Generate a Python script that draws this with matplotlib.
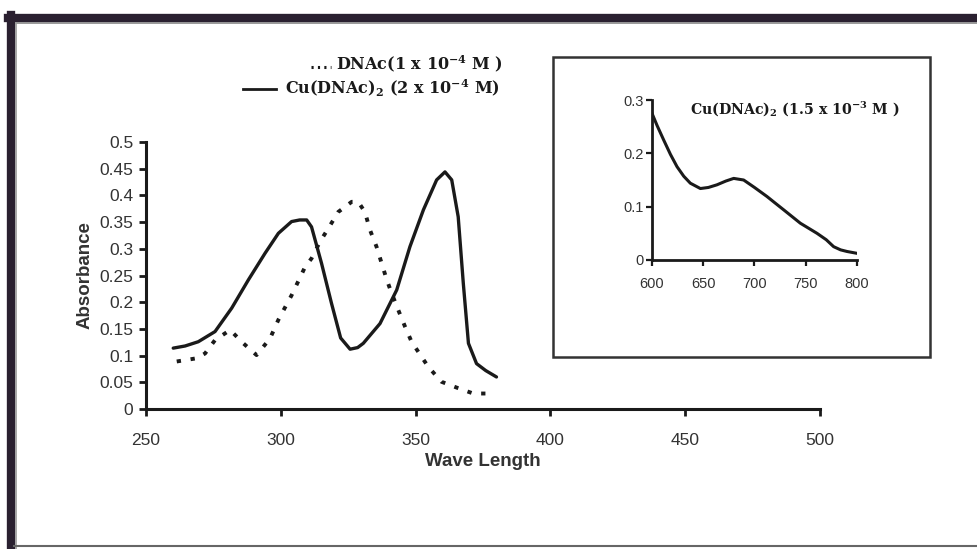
import matplotlib
matplotlib.use("Agg")
import matplotlib.pyplot as plt
from matplotlib.lines import Line2D

# ---- data ----
cu_wl = [260.1, 264.5, 269.4, 275.6, 281.8, 288, 294.2, 299.1, 304, 307, 309.6, 311.4,
         315.1, 318.8, 322.2, 325.7, 328.5, 330.6, 336.8, 343, 347.9, 352.9, 357.8,
         360.9, 363.4, 365.8, 367.7, 369.6, 372.6, 376, 380]
cu_abs = [0.114, 0.118, 0.126, 0.145, 0.189, 0.242, 0.292, 0.329, 0.351, 0.354, 0.354, 0.341,
          0.273, 0.198, 0.133, 0.112, 0.115, 0.123, 0.160, 0.223, 0.304, 0.373, 0.429,
          0.444, 0.429, 0.360, 0.235, 0.123, 0.085, 0.072, 0.060]

dna_wl = [261.4, 268.8, 271.9, 275.6, 281.2, 286.1, 291, 296, 299.1, 304, 309, 311.4,
          314.5, 317.6, 321.3, 326.3, 328.7, 331.2, 333.1, 335.5, 337.4, 339.3, 341.1,
          343.6, 346.1, 348.5, 351, 354.7, 359.6, 365.8, 371.4, 378.2]
dna_abs = [0.089, 0.095, 0.104, 0.129, 0.148, 0.123, 0.101, 0.132, 0.167, 0.213, 0.266, 0.282,
           0.313, 0.338, 0.369, 0.388, 0.388, 0.369, 0.335, 0.304, 0.273, 0.242, 0.217,
           0.185, 0.154, 0.126, 0.107, 0.079, 0.051, 0.039, 0.029, 0.029]

inset_wl = [600, 605, 611.4, 618, 624.4, 631, 637.4, 647.2, 655, 663.4, 672, 679.7, 689.4,
            700, 712.2, 720, 728.5, 744.7, 761, 770, 777.2, 784, 790.2, 800]
inset_abs = [0.275, 0.252, 0.225, 0.198, 0.175, 0.157, 0.144, 0.134, 0.136, 0.141, 0.148,
             0.153, 0.150, 0.136, 0.119, 0.107, 0.094, 0.069, 0.050, 0.038, 0.025, 0.019,
             0.016, 0.0125]

main_xticks = [250, 300, 350, 400, 450, 500]
main_yticks = [0, 0.05, 0.1, 0.15, 0.2, 0.25, 0.3, 0.35, 0.4, 0.45, 0.5]
main_yticklabels = ["0", "0.05", "0.1", "0.15", "0.2", "0.25", "0.3", "0.35", "0.4", "0.45", "0.5"]
inset_xticks = [600, 650, 700, 750, 800]
inset_yticks = [0, 0.1, 0.2, 0.3]
inset_yticklabels = ["0", "0.1", "0.2", "0.3"]

legend_dna = r"DNAc(1 x 10$^{-4}$ M )"
legend_cu = r"Cu(DNAc)$_2$ (2 x 10$^{-4}$ M)"
inset_title = r"Cu(DNAc)$_2$ (1.5 x 10$^{-3}$ M )"

plt.rcParams['font.family'] = ['Liberation Sans', 'DejaVu Sans']
plt.rcParams['mathtext.fontset'] = 'custom'
plt.rcParams['mathtext.rm'] = 'DejaVu Serif:bold'
plt.rcParams['mathtext.it'] = 'DejaVu Serif:bold'
plt.rcParams['mathtext.bf'] = 'DejaVu Serif:bold'

W, H = 978, 549
fig = plt.figure(figsize=(W / 100, H / 100), dpi=100)
fig.patch.set_facecolor('white')

def fx(px):
    return px / W

def fy(py):
    return 1 - py / H

ink = '#1a1a1a'
grey_txt = '#333333'

# ---- main axes ----
ax = fig.add_axes([fx(146), fy(409), fx(820) - fx(146), fy(142) - fy(409)])
ax.plot(cu_wl, cu_abs, color=ink, lw=2.4, solid_capstyle='round', solid_joinstyle='round')
ax.plot(dna_wl, dna_abs, color=ink, lw=2.8, linestyle=(0, (1.1, 2.5)))
ax.set_xlim(250, 500)
ax.set_ylim(0, 0.5)
ax.set_xticks(main_xticks)
ax.set_yticks(main_yticks)
ax.set_yticklabels(main_yticklabels)
for s in ['top', 'right']:
    ax.spines[s].set_visible(False)
for s in ['left', 'bottom']:
    ax.spines[s].set_linewidth(2.2)
    ax.spines[s].set_color(ink)
ax.tick_params(axis='both', direction='out', length=5, width=2, color=ink,
               labelsize=12.5, labelcolor=grey_txt)
ax.tick_params(axis='x', pad=12)
ax.tick_params(axis='y', pad=4)
ax.set_xlabel("Wave Length", fontsize=13.5, fontweight='bold', color=grey_txt, labelpad=4)
ax.set_ylabel("Absorbance", fontsize=13.5, fontweight='bold', color=grey_txt, labelpad=4)
ax.patch.set_alpha(0)

# ---- legend text ----
fig.text(fx(336), fy(64), legend_dna, fontsize=11.5, fontweight='bold',
         family='DejaVu Serif', color=ink, va='center', ha='left')
fig.add_artist(Line2D([fx(311), fx(331)], [fy(67), fy(67)], color=ink, lw=2.2,
                      linestyle=(0, (0.7, 1.4))))
fig.text(fx(285), fy(88), legend_cu, fontsize=11.5, fontweight='bold',
         family='DejaVu Serif', color=ink, va='center', ha='left')
fig.add_artist(Line2D([fx(243), fx(276)], [fy(89), fy(89)], color=ink, lw=2))

# ---- inset frame ----
fig.add_artist(plt.Rectangle((fx(553), fy(357)), fx(930) - fx(553), fy(57) - fy(357),
                             fill=False, edgecolor='#333333', lw=1.8))

# ---- inset axes ----
ia = fig.add_axes([fx(652), fy(260), fx(857) - fx(652), fy(100) - fy(260)])
ia.plot(inset_wl, inset_abs, color=ink, lw=2.2, solid_joinstyle='round')
ia.set_xlim(600, 800)
ia.set_ylim(0, 0.3)
ia.set_xticks(inset_xticks)
ia.set_yticks(inset_yticks)
ia.set_yticklabels(inset_yticklabels)
for s in ['top', 'right']:
    ia.spines[s].set_visible(False)
for s in ['left', 'bottom']:
    ia.spines[s].set_linewidth(2)
    ia.spines[s].set_color(ink)
ia.tick_params(axis='both', direction='out', length=4, width=1.6, color=ink,
               labelsize=10.5, labelcolor=grey_txt)
ia.tick_params(axis='x', pad=8)
ia.tick_params(axis='y', pad=2)
ia.patch.set_alpha(0)
ia.text(0.185, 0.94, inset_title, transform=ia.transAxes, fontsize=10.2,
        fontweight='bold', family='DejaVu Serif', color=ink, va='center', ha='left')

# ---- scan border ----
fig.add_artist(Line2D([fx(11), fx(11)], [fy(15), fy(549)], color='#2a2030', lw=6))
fig.add_artist(Line2D([fx(8), fx(978)], [fy(18), fy(18)], color='#2a2030', lw=6))
fig.add_artist(Line2D([fx(16), fx(978)], [fy(23), fy(23)], color='#888888', lw=1.2))
fig.add_artist(Line2D([fx(16), fx(16)], [fy(23), fy(549)], color='#999999', lw=1.2))
fig.add_artist(Line2D([fx(14), fx(978)], [fy(546), fy(546)], color='#666666', lw=1.5))

fig.savefig("out.png", dpi=100, facecolor='white')
